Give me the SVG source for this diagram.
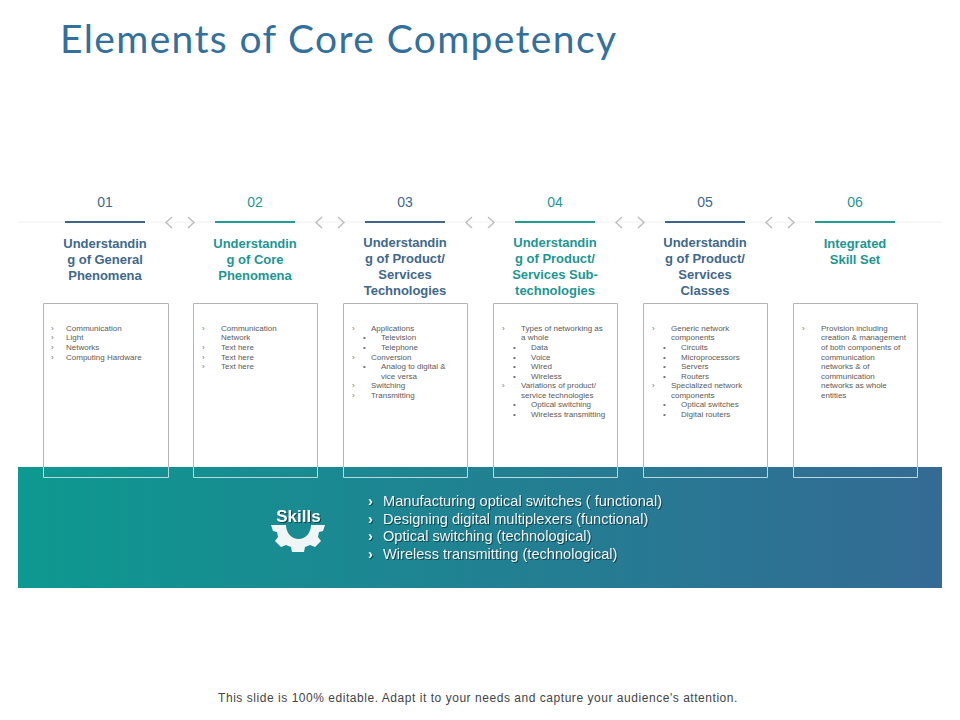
<svg xmlns="http://www.w3.org/2000/svg" width="960" height="720" viewBox="0 0 960 720">
<style>
text{font-family:"Liberation Sans",Arial,sans-serif}
.title{font-family:Lato,"Liberation Sans",sans-serif;font-size:39px;fill:#33709b;letter-spacing:1.36px}
.num{font-size:14px;text-anchor:middle}
.hd{font-size:13px;font-weight:bold;text-anchor:middle;letter-spacing:-.03px}
.d{fill:#41688a}.t{fill:#1d9692}
.rd{stroke:#3d6688;stroke-width:2;fill:none}.rt{stroke:#1f9c96;stroke-width:2;fill:none}
.box{fill:#fff;stroke:none}
.edge{fill:none;stroke:#b4b4b4;stroke-width:1}
.edge2{fill:none;stroke:#bcd8db;stroke-width:1}
.li{font-size:8px;fill:#5a5a5a}
.mk{font-size:8px;fill:#6e6e6e}
.sk{font-size:14.6px;fill:#f0f6f7;filter:drop-shadow(1px 1px .6px rgba(0,0,0,.45))}
.skm{font-weight:bold}
.chev{fill:none;stroke:#bdbdbd;stroke-width:1.4}
</style>
<defs>
<linearGradient id="band" x1="0" y1="0" x2="1" y2="0"><stop offset="0" stop-color="#0d9990"/><stop offset="1" stop-color="#346a94"/></linearGradient>
</defs>
<text class="title" x="60" y="53">Elements of Core Competency</text>
<line x1="18" y1="222" x2="942" y2="222" stroke="#f0f0f0" stroke-width="1"/>
<g id="connectors">
<path class="chev" d="M172 217l-6 5.500 6 5.500M188 217l6 5.500-6 5.500"/>
<path class="chev" d="M322 217l-6 5.500 6 5.500M338 217l6 5.500-6 5.500"/>
<path class="chev" d="M472 217l-6 5.500 6 5.500M488 217l6 5.500-6 5.500"/>
<path class="chev" d="M622 217l-6 5.500 6 5.500M638 217l6 5.500-6 5.500"/>
<path class="chev" d="M772 217l-6 5.500 6 5.500M788 217l6 5.500-6 5.500"/>
</g>
<g id="node-01">
<text class="num d" x="105" y="207">01</text>
<line class="rd" x1="65" y1="222" x2="145" y2="222"/>
<text class="hd d"><tspan x="105" y="248">Understandin</tspan><tspan x="105" y="264">g of General</tspan><tspan x="105" y="280">Phenomena</tspan></text>
<rect class="box" x="43.500" y="303.500" width="125" height="174"/>
<text class="mk" x="51" y="331">›</text><text class="li" x="66" y="331">Communication</text>
<text class="mk" x="51" y="340">›</text><text class="li" x="66" y="340">Light</text>
<text class="mk" x="51" y="350">›</text><text class="li" x="66" y="350">Networks</text>
<text class="mk" x="51" y="360">›</text><text class="li" x="66" y="360">Computing Hardware</text>
</g>
<g id="node-02">
<text class="num t" x="255" y="207">02</text>
<line class="rt" x1="215" y1="222" x2="295" y2="222"/>
<text class="hd t"><tspan x="255" y="248">Understandin</tspan><tspan x="255" y="264">g of Core</tspan><tspan x="255" y="280">Phenomena</tspan></text>
<rect class="box" x="193.500" y="303.500" width="124" height="174"/>
<text class="mk" x="202" y="331">›</text><text class="li" x="221" y="331">Communication</text>
<text class="li" x="221" y="340">Network</text>
<text class="mk" x="202" y="350">›</text><text class="li" x="221" y="350">Text here</text>
<text class="mk" x="202" y="360">›</text><text class="li" x="221" y="360">Text here</text>
<text class="mk" x="202" y="369">›</text><text class="li" x="221" y="369">Text here</text>
</g>
<g id="node-03">
<text class="num d" x="405" y="207">03</text>
<line class="rd" x1="365" y1="222" x2="445" y2="222"/>
<text class="hd d"><tspan x="405" y="247">Understandin</tspan><tspan x="405" y="263">g of Product/</tspan><tspan x="405" y="279">Services</tspan><tspan x="405" y="295">Technologies</tspan></text>
<rect class="box" x="343.500" y="303.500" width="124" height="174"/>
<text class="mk" x="352" y="331">›</text><text class="li" x="371" y="331">Applications</text>
<text class="mk" x="363" y="340">•</text><text class="li" x="381" y="340">Television</text>
<text class="mk" x="363" y="350">•</text><text class="li" x="381" y="350">Telephone</text>
<text class="mk" x="352" y="360">›</text><text class="li" x="371" y="360">Conversion</text>
<text class="mk" x="363" y="369">•</text><text class="li" x="381" y="369">Analog to digital &amp;</text>
<text class="li" x="381" y="379">vice versa</text>
<text class="mk" x="352" y="388">›</text><text class="li" x="371" y="388">Switching</text>
<text class="mk" x="352" y="398">›</text><text class="li" x="371" y="398">Transmitting</text>
</g>
<g id="node-04">
<text class="num t" x="555" y="207">04</text>
<line class="rt" x1="515" y1="222" x2="595" y2="222"/>
<text class="hd t"><tspan x="555" y="247">Understandin</tspan><tspan x="555" y="263">g of Product/</tspan><tspan x="555" y="279">Services Sub-</tspan><tspan x="555" y="295">technologies</tspan></text>
<rect class="box" x="493.500" y="303.500" width="124" height="174"/>
<text class="mk" x="502" y="331">›</text><text class="li" x="521" y="331">Types of networking as</text>
<text class="li" x="521" y="340">a whole</text>
<text class="mk" x="513" y="350">•</text><text class="li" x="531" y="350">Data</text>
<text class="mk" x="513" y="360">•</text><text class="li" x="531" y="360">Voice</text>
<text class="mk" x="513" y="369">•</text><text class="li" x="531" y="369">Wired</text>
<text class="mk" x="513" y="379">•</text><text class="li" x="531" y="379">Wireless</text>
<text class="mk" x="502" y="388">›</text><text class="li" x="521" y="388">Variations of product/</text>
<text class="li" x="521" y="398">service technologies</text>
<text class="mk" x="513" y="407">•</text><text class="li" x="531" y="407">Optical switching</text>
<text class="mk" x="513" y="417">•</text><text class="li" x="531" y="417">Wireless transmitting</text>
</g>
<g id="node-05">
<text class="num d" x="705" y="207">05</text>
<line class="rd" x1="665" y1="222" x2="745" y2="222"/>
<text class="hd d"><tspan x="705" y="247">Understandin</tspan><tspan x="705" y="263">g of Product/</tspan><tspan x="705" y="279">Services</tspan><tspan x="705" y="295">Classes</tspan></text>
<rect class="box" x="643.500" y="303.500" width="124" height="174"/>
<text class="mk" x="652" y="331">›</text><text class="li" x="671" y="331">Generic network</text>
<text class="li" x="671" y="340">components</text>
<text class="mk" x="663" y="350">•</text><text class="li" x="681" y="350">Circuits</text>
<text class="mk" x="663" y="360">•</text><text class="li" x="681" y="360">Microprocessors</text>
<text class="mk" x="663" y="369">•</text><text class="li" x="681" y="369">Servers</text>
<text class="mk" x="663" y="379">•</text><text class="li" x="681" y="379">Routers</text>
<text class="mk" x="652" y="388">›</text><text class="li" x="671" y="388">Specialized network</text>
<text class="li" x="671" y="398">components</text>
<text class="mk" x="663" y="407">•</text><text class="li" x="681" y="407">Optical switches</text>
<text class="mk" x="663" y="417">•</text><text class="li" x="681" y="417">Digital routers</text>
</g>
<g id="node-06">
<text class="num t" x="855" y="207">06</text>
<line class="rt" x1="815" y1="222" x2="895" y2="222"/>
<text class="hd t"><tspan x="855" y="248">Integrated</tspan><tspan x="855" y="264">Skill Set</tspan></text>
<rect class="box" x="793.500" y="303.500" width="124" height="174"/>
<text class="mk" x="802" y="331">›</text><text class="li" x="821" y="331">Provision including</text>
<text class="li" x="821" y="340">creation &amp; management</text>
<text class="li" x="821" y="350">of both components of</text>
<text class="li" x="821" y="360">communication</text>
<text class="li" x="821" y="369">networks &amp; of</text>
<text class="li" x="821" y="379">communication</text>
<text class="li" x="821" y="388">networks as whole</text>
<text class="li" x="821" y="398">entities</text>
</g>
<g id="skills-band">
<rect x="18" y="467" width="924" height="121" fill="url(#band)"/>
<path class="edge" d="M43.500 467V303.500H168.500V467M193.500 467V303.500H317.500V467M343.500 467V303.500H467.500V467M493.500 467V303.500H617.500V467M643.500 467V303.500H767.500V467M793.500 467V303.500H917.500V467"/>
<path class="edge2" d="M43.500 467V477.500H168.500V467M193.500 467V477.500H317.500V467M343.500 467V477.500H467.500V467M493.500 467V477.500H617.500V467M643.500 467V477.500H767.500V467M793.500 467V477.500H917.500V467"/>
</g>
<g id="skills-icon">
<path fill="#f0f5f6" d="M271 525H286A12.500 14 0 0 0 311 525H325L323 531L319 532L318 537L321 541L315 547L310 545L305 547L304 552H292L291 547L286 545L281 547L275 541L278 537L277 532L273 531Z"/>
<text x="298.500" y="522" text-anchor="middle" font-size="17" font-weight="bold" fill="#fff" style="filter:drop-shadow(1px 1px .6px rgba(0,0,0,.5))">Skills</text>
</g>
<g id="skills-list">
<text class="sk skm" x="368" y="506">›</text><text class="sk" x="383" y="506">Manufacturing optical switches ( functional)</text>
<text class="sk skm" x="368" y="524">›</text><text class="sk" x="383" y="524">Designing digital multiplexers (functional)</text>
<text class="sk skm" x="368" y="541">›</text><text class="sk" x="383" y="541">Optical switching (technological)</text>
<text class="sk skm" x="368" y="559">›</text><text class="sk" x="383" y="559">Wireless transmitting (technological)</text>
</g>
<text x="478" y="702" text-anchor="middle" font-size="12" fill="#444" letter-spacing=".54">This slide is 100% editable. Adapt it to your needs and capture your audience's attention.</text>
</svg>
